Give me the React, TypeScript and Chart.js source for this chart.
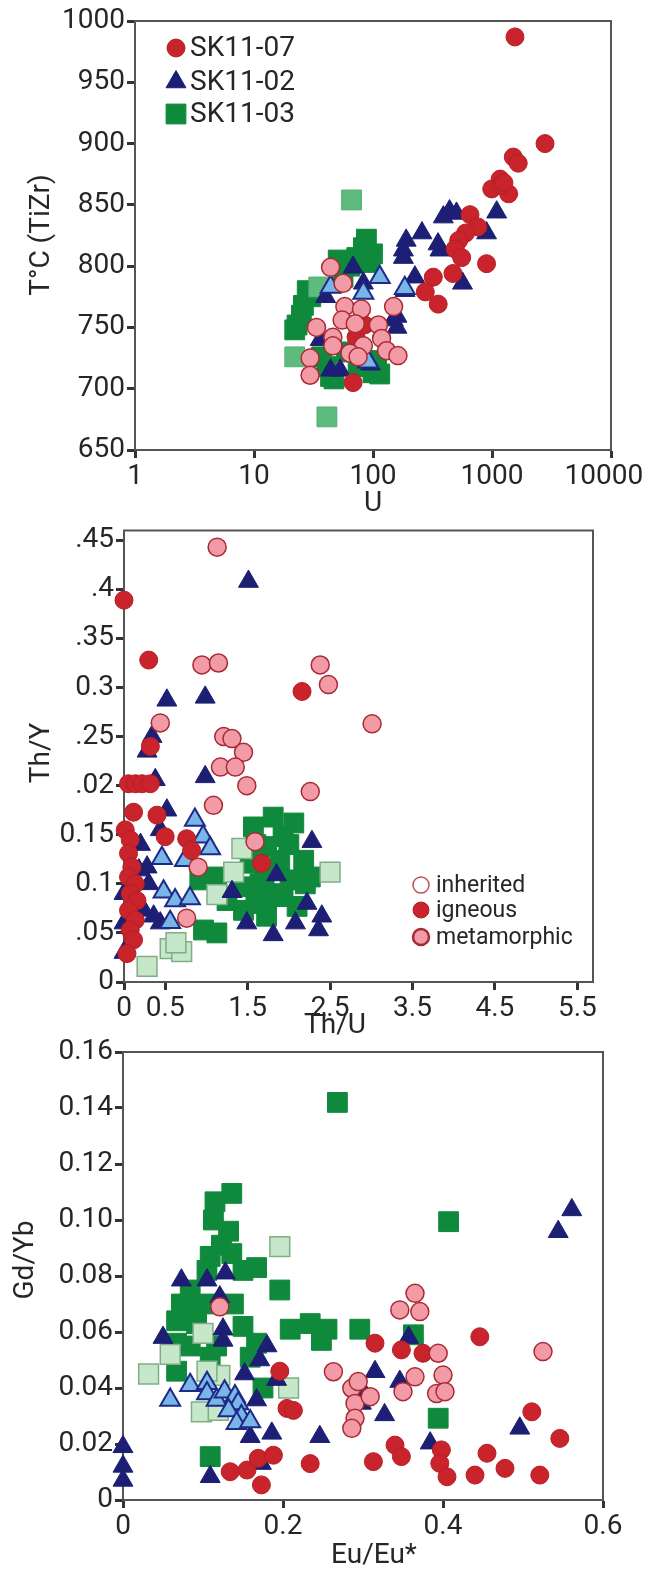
import React, { useEffect, useRef } from 'react';
import { Chart, registerables } from 'chart.js';

Chart.register(...registerables);

type P = [number, number];

// ---------------- Panel 1: T°C (TiZr) vs U (log) ----------------
const p1XTicks = [1, 10, 100, 1000, 10000];
const p1XTickLabels = ['1', '10', '100', '1000', '10000\u2002'];
const p1YTicks = [650, 700, 750, 800, 850, 900, 950, 1000];
const p1YTickLabels = ['650', '700', '750', '800', '850', '900', '950', '1000'];

const p1Red: P[] = [
  [1560, 987], [2790, 900], [1510, 889], [1660, 884], [1170, 871], [995, 863], [1380, 859],
  [1200, 866], [1260, 868], [653, 842], [760, 832], [600, 827], [525, 821], [490, 814],
  [556, 807], [900, 802], [470, 794], [321, 791], [275, 779], [353, 769], [68, 705],
  [72, 742], [85, 752],
];
const p1Navy: P[] = [
  [390, 840], [440, 845], [503, 843], [1095, 844], [258, 827], [190, 821], [180, 813],
  [180, 807], [365, 813], [352, 818], [225, 791], [565, 786], [900, 827], [186, 780],
  [159, 759], [159, 750], [148, 756], [68, 799], [83, 786], [40, 775], [36, 740], [53, 715],
  [44, 715], [95, 720],
];
const p1LightBlue: P[] = [[114, 791], [83, 778], [44, 783], [185, 782], [91, 722]];
const p1Green: P[] = [
  [88, 822], [83, 815], [73, 807], [64, 800], [94, 803], [99, 810], [56, 791], [51, 805],
  [28, 780], [30, 775], [26, 768], [25, 760], [23, 752], [22, 748], [37, 726], [41, 718],
  [44, 710], [47, 708], [100, 713], [114, 712], [107, 723], [60, 730], [75, 718],
];
const p1MidGreen: P[] = [[66, 854], [22, 726], [41, 677], [35, 783]];
const p1Pink: P[] = [
  [44, 799], [56, 786], [58, 767], [80, 765], [149, 767], [55, 756], [71, 753], [111, 752],
  [33.5, 750], [46, 742], [118, 741], [46, 735], [83, 735], [130, 731], [162, 727], [64, 729],
  [75, 726], [29.6, 725], [29.6, 711],
];

// ---------------- Panel 2: Th/Y vs Th/U ----------------
const p2XTicks = [0, 0.5, 1.5, 2.5, 3.5, 4.5, 5.5];
const p2XTickLabels = ['0', '0.5', '1.5', '2.5', '3.5', '4.5', '5.5'];
const p2YTicks = [0, 0.05, 0.1, 0.15, 0.2, 0.25, 0.3, 0.35, 0.4, 0.45];
const p2YTickLabels = ['0', '.05', '0.1', '0.15', '.02', '.25', '0.3', '.35', '.4', '.45'];

const p2Pink: P[] = [
  [1.13, 0.443], [0.945, 0.323], [1.146, 0.325], [2.38, 0.323], [2.48, 0.303], [3.01, 0.263],
  [0.44, 0.264], [1.21, 0.25], [1.31, 0.248], [1.45, 0.234], [1.17, 0.219], [1.35, 0.219],
  [1.49, 0.2], [2.26, 0.194], [1.085, 0.18], [1.59, 0.143], [0.9, 0.117], [0.76, 0.065],
];
const p2Red: P[] = [
  [0.0, 0.389], [0.3, 0.328], [2.16, 0.296], [0.32, 0.24], [0.055, 0.202], [0.14, 0.202],
  [0.22, 0.202], [0.32, 0.202], [0.116, 0.173], [0.4, 0.17], [0.5, 0.148], [0.76, 0.146],
  [0.82, 0.134], [1.67, 0.121], [0.015, 0.155], [0.075, 0.145], [0.055, 0.131], [0.095, 0.117],
  [0.055, 0.107], [0.137, 0.1], [0.075, 0.09], [0.157, 0.083], [0.055, 0.073], [0.137, 0.063],
  [0.075, 0.053], [0.116, 0.043], [0.036, 0.029],
];
const p2Navy: P[] = [
  [1.51, 0.408], [0.52, 0.287], [0.985, 0.29], [0.28, 0.235], [0.34, 0.25], [0.985, 0.209],
  [0.38, 0.206], [0.52, 0.175], [0.44, 0.155], [2.28, 0.143], [1.85, 0.109], [1.31, 0.092],
  [2.22, 0.08], [2.4, 0.067], [2.08, 0.06], [1.49, 0.06], [2.36, 0.053], [1.81, 0.048],
  [0.28, 0.117], [0.3, 0.1], [0.36, 0.067], [0.0, 0.09], [0.0, 0.06], [0.0, 0.03],
  [0.24, 0.073], [0.44, 0.06], [0.18, 0.114], [0.2, 0.14],
];
const p2LightBlue: P[] = [
  [0.86, 0.165], [0.96, 0.148], [1.045, 0.136], [0.46, 0.126], [0.74, 0.124], [0.48, 0.092],
  [0.62, 0.083], [0.8, 0.085], [0.56, 0.061],
];
const p2Green: P[] = [
  [1.81, 0.168], [2.06, 0.162], [1.57, 0.158], [1.93, 0.148], [1.73, 0.138], [2.18, 0.124],
  [1.89, 0.124], [1.53, 0.121], [2.26, 0.107], [2.015, 0.104], [1.65, 0.1], [1.45, 0.097],
  [1.127, 0.107], [0.92, 0.104], [1.25, 0.083], [1.69, 0.083], [1.93, 0.087], [1.45, 0.073],
  [1.73, 0.067], [0.965, 0.053], [1.127, 0.05], [2.1, 0.077], [1.6, 0.14], [2.0, 0.14],
  [1.7, 0.11], [1.85, 0.09], [2.2, 0.1], [1.6, 0.08],
];
const p2LightGreen: P[] = [
  [1.43, 0.136], [2.5, 0.112], [1.33, 0.112], [1.127, 0.089], [0.56, 0.034], [0.7, 0.031],
  [0.28, 0.016], [0.63, 0.04],
];

// ---------------- Panel 3: Gd/Yb vs Eu/Eu* ----------------
const p3XTicks = [0, 0.2, 0.4, 0.6];
const p3XTickLabels = ['0', '0.2', '0.4', '0.6'];
const p3YTicks = [0, 0.02, 0.04, 0.06, 0.08, 0.1, 0.12, 0.14, 0.16];
const p3YTickLabels = ['0', '0.02', '0.04', '0.06', '0.08', '0.10', '0.12', '0.14', '0.16'];

const p3Green: P[] = [
  [0.136, 0.1095], [0.115, 0.1065], [0.113, 0.1], [0.132, 0.096], [0.123, 0.091], [0.109, 0.087],
  [0.136, 0.088], [0.167, 0.083], [0.15, 0.082], [0.105, 0.082], [0.196, 0.075], [0.084, 0.075],
  [0.073, 0.07], [0.088, 0.068], [0.109, 0.07], [0.138, 0.07], [0.067, 0.064], [0.092, 0.063],
  [0.15, 0.062], [0.209, 0.061], [0.234, 0.063], [0.255, 0.061], [0.248, 0.057], [0.296, 0.061],
  [0.167, 0.056], [0.067, 0.056], [0.084, 0.055], [0.117, 0.055], [0.159, 0.051], [0.067, 0.046],
  [0.109, 0.051], [0.175, 0.04], [0.109, 0.0155], [0.268, 0.142], [0.407, 0.0994], [0.363, 0.059],
  [0.394, 0.0292],
];
const p3LightGreen: P[] = [
  [0.196, 0.0905], [0.1, 0.0595], [0.059, 0.052], [0.032, 0.045], [0.121, 0.0445], [0.207, 0.04],
  [0.098, 0.0315], [0.119, 0.032], [0.105, 0.046],
];
const p3Navy: P[] = [
  [0.073, 0.0785], [0.128, 0.081], [0.105, 0.0785], [0.121, 0.0725], [0.05, 0.058], [0.125, 0.061],
  [0.125, 0.057], [0.18, 0.055], [0.171, 0.05], [0.152, 0.045], [0.192, 0.043], [0.167, 0.0357],
  [0.159, 0.0226], [0.186, 0.0238], [0.246, 0.0226], [0, 0.019], [0, 0.012], [0, 0.007],
  [0.109, 0.0083], [0.173, 0.013], [0.561, 0.1036], [0.544, 0.0958], [0.357, 0.058],
  [0.315, 0.0458], [0.302, 0.038], [0.298, 0.0345], [0.346, 0.0423], [0.327, 0.0304],
  [0.384, 0.0203], [0.496, 0.0256],
];
const p3LightBlue: P[] = [
  [0.059, 0.0357], [0.084, 0.041], [0.105, 0.0417], [0.105, 0.038], [0.117, 0.0357], [0.127, 0.0387],
  [0.14, 0.037], [0.144, 0.0345], [0.132, 0.032], [0.148, 0.0298], [0.142, 0.0274], [0.159, 0.028],
];
const p3Pink: P[] = [
  [0.121, 0.069], [0.263, 0.0458], [0.365, 0.0738], [0.346, 0.0679], [0.371, 0.0673], [0.394, 0.0524],
  [0.525, 0.053], [0.365, 0.044], [0.4, 0.0446], [0.392, 0.038], [0.4025, 0.0387], [0.35, 0.0387],
  [0.286, 0.0399], [0.294, 0.0423], [0.29, 0.0345], [0.309, 0.0369], [0.29, 0.0292], [0.286, 0.0256],
];
const p3Red: P[] = [
  [0.196, 0.046], [0.205, 0.0327], [0.213, 0.032], [0.134, 0.0101], [0.155, 0.0107], [0.169, 0.0149],
  [0.188, 0.016], [0.173, 0.0054], [0.234, 0.013], [0.315, 0.056], [0.348, 0.0536], [0.375, 0.0524],
  [0.446, 0.0583], [0.511, 0.0315], [0.546, 0.022], [0.34, 0.0196], [0.348, 0.0155], [0.313, 0.0137],
  [0.398, 0.0179], [0.396, 0.0131], [0.405, 0.0083], [0.455, 0.0167], [0.44, 0.0089], [0.4775, 0.0113],
  [0.521, 0.0089],
];

// ---------------- styling ----------------
const FONT = 'Roboto, "Open Sans", sans-serif';
const TEXT = '#262626';
const TICK_SIZE = 28;
const TITLE_SIZE = 28;

type Sty = { style: 'circle' | 'triangle' | 'rect'; r: number; fill: string; stroke: string; bw: number };
const STY: Record<string, Sty> = {
  pink: { style: 'circle', r: 9, fill: '#f29ba6', stroke: '#a82a34', bw: 1.5 },
  red: { style: 'circle', r: 9, fill: '#c9232c', stroke: '#b51f27', bw: 1 },
  hollow: { style: 'circle', r: 8, fill: '#ffffff', stroke: '#c0505a', bw: 1.5 },
  lightBlue: { style: 'triangle', r: 11.5, fill: '#7ab5e8', stroke: '#1d2a86', bw: 2 },
  navy: { style: 'triangle', r: 11.5, fill: '#1c1f73', stroke: '#1c1f73', bw: 1 },
  lightGreen: { style: 'rect', r: 14, fill: '#c7e7ca', stroke: '#7fae86', bw: 1.5 },
  midGreen: { style: 'rect', r: 14, fill: '#5dbb7e', stroke: '#52ad72', bw: 1 },
  green: { style: 'rect', r: 14, fill: '#0f8a3c', stroke: '#0f8a3c', bw: 1 },
};

function ds(data: P[], s: Sty) {
  return {
    data: data.map(([x, y]) => ({ x, y })),
    pointStyle: s.style,
    pointRadius: s.r,
    pointHoverRadius: s.r,
    pointBackgroundColor: s.fill,
    backgroundColor: s.fill,
    pointBorderColor: s.stroke,
    borderColor: s.stroke,
    pointBorderWidth: s.bw,
    showLine: false,
    clip: false,
  };
}

function drawMarker(ctx: CanvasRenderingContext2D, s: Sty, x: number, y: number) {
  ctx.save();
  ctx.beginPath();
  if (s.style === 'circle') ctx.arc(x, y, s.r, 0, Math.PI * 2);
  else if (s.style === 'triangle') {
    ctx.moveTo(x, y - s.r);
    ctx.lineTo(x + s.r * 0.866, y + s.r / 2);
    ctx.lineTo(x - s.r * 0.866, y + s.r / 2);
    ctx.closePath();
  } else {
    const h = s.r * Math.SQRT1_2;
    ctx.rect(x - h, y - h, 2 * h, 2 * h);
  }
  ctx.fillStyle = s.fill;
  ctx.strokeStyle = s.stroke;
  ctx.lineWidth = s.bw;
  ctx.fill();
  ctx.stroke();
  ctx.restore();
}

type Area = { left: number; top: number; right: number; bottom: number };
type TitleSpec = { text: string; x: number; y: number; rotate?: boolean };
type LegendSpec = { items: { sty: Sty; text: string }[]; mx: number; tx: number; ys: number[]; size: number };
type Spec = {
  width: number;
  height: number;
  top: number;
  area: Area;
  xType: 'linear' | 'logarithmic';
  xMin: number; xMax: number; xTicks: number[]; xLabels: string[];
  yMin: number; yMax: number; yTicks: number[]; yLabels: string[];
  datasets: any[];
  titles: TitleSpec[];
  legend: LegendSpec;
};

function axis(kind: 'x' | 'y', spec: Spec) {
  const isX = kind === 'x';
  const ticks = isX ? spec.xTicks : spec.yTicks;
  const labels = isX ? spec.xLabels : spec.yLabels;
  return {
    type: isX ? spec.xType : 'linear',
    position: isX ? 'bottom' : 'left',
    min: isX ? spec.xMin : spec.yMin,
    max: isX ? spec.xMax : spec.yMax,
    afterBuildTicks: (s: any) => {
      s.ticks = ticks.map((v) => ({ value: v }));
    },
    afterFit: (s: any) => {
      if (isX) {
        s.height = spec.height - spec.area.bottom;
        s.paddingLeft = 0;
        s.paddingRight = 0;
      } else {
        s.width = spec.area.left;
        s.paddingTop = 0;
        s.paddingBottom = 0;
      }
    },
    ticks: {
      autoSkip: false,
      maxRotation: 0,
      minRotation: 0,
      padding: 2,
      color: TEXT,
      font: { family: FONT, size: TICK_SIZE },
      callback: (_v: any, i: number) => labels[i],
    },
    grid: {
      display: true,
      drawOnChartArea: false,
      drawTicks: true,
      tickLength: 8,
      tickWidth: 3,
      tickColor: '#333',
      color: '#333',
    },
    border: { display: true, color: '#555', width: 2 },
    title: { display: false },
  };
}

function buildConfig(spec: Spec): any {
  const decor = {
    id: 'decor',
    beforeDatasetsDraw(chart: any) {
      const { ctx, chartArea: a } = chart;
      ctx.save();
      ctx.strokeStyle = '#555';
      ctx.lineWidth = 2;
      ctx.strokeRect(a.left, a.top, a.right - a.left, a.bottom - a.top);
      ctx.restore();
    },
    afterDraw(chart: any) {
      const ctx: CanvasRenderingContext2D = chart.ctx;
      ctx.save();
      ctx.fillStyle = TEXT;
      ctx.textAlign = 'center';
      ctx.textBaseline = 'middle';
      ctx.font = `${TITLE_SIZE}px ${FONT}`;
      for (const t of spec.titles) {
        ctx.save();
        ctx.translate(t.x, t.y);
        if (t.rotate) ctx.rotate(-Math.PI / 2);
        ctx.fillText(t.text, 0, 0);
        ctx.restore();
      }
      const L = spec.legend;
      ctx.textAlign = 'left';
      ctx.font = `${L.size}px ${FONT}`;
      L.items.forEach((it, i) => {
        drawMarker(ctx, it.sty, L.mx, L.ys[i]);
        ctx.fillStyle = TEXT;
        ctx.fillText(it.text, L.tx, L.ys[i] + 1);
      });
      ctx.restore();
    },
  };
  return {
    type: 'scatter',
    data: { datasets: spec.datasets },
    options: {
      responsive: false,
      animation: false,
      devicePixelRatio: 1,
      events: [],
      layout: {
        padding: { left: 0, top: spec.area.top, right: spec.width - spec.area.right, bottom: 0 },
      },
      plugins: { legend: { display: false }, tooltip: { enabled: false } },
      scales: { x: axis('x', spec), y: axis('y', spec) },
    },
    plugins: [decor],
  };
}

const W = 647;

const panel1: Spec = {
  width: W, height: 525, top: 0,
  area: { left: 135, top: 21, right: 611, bottom: 450 },
  xType: 'logarithmic', xMin: 1, xMax: 10000, xTicks: p1XTicks, xLabels: p1XTickLabels,
  yMin: 650, yMax: 1000, yTicks: p1YTicks, yLabels: p1YTickLabels,
  datasets: [
    ds(p1Pink, STY.pink), ds(p1Red, STY.red), ds(p1LightBlue, STY.lightBlue), ds(p1Navy, STY.navy),
    ds(p1MidGreen, STY.midGreen), ds(p1Green, STY.green),
  ],
  titles: [
    { text: 'T°C (TiZr)', x: 42, y: 235, rotate: true },
    { text: 'U', x: 373, y: 504 },
  ],
  legend: {
    items: [
      { sty: STY.red, text: 'SK11-07' },
      { sty: STY.navy, text: 'SK11-02' },
      { sty: STY.green, text: 'SK11-03' },
    ],
    mx: 176, tx: 190, ys: [48, 82, 114], size: 28,
  },
};

const panel2: Spec = {
  width: W, height: 530, top: 515,
  area: { left: 124, top: 15, right: 593, bottom: 467 },
  xType: 'linear', xMin: 0, xMax: 5.69, xTicks: p2XTicks, xLabels: p2XTickLabels,
  yMin: 0, yMax: 0.46, yTicks: p2YTicks, yLabels: p2YTickLabels,
  datasets: [
    ds(p2Pink, STY.pink), ds(p2Red, STY.red), ds(p2LightBlue, STY.lightBlue), ds(p2Navy, STY.navy),
    ds(p2LightGreen, STY.lightGreen), ds(p2Green, STY.green),
  ],
  titles: [
    { text: 'Th/Y', x: 42, y: 238, rotate: true },
    { text: 'Th/U', x: 335, y: 511 },
  ],
  legend: {
    items: [
      { sty: STY.hollow, text: 'inherited' },
      { sty: { ...STY.red, r: 8 }, text: 'igneous' },
      { sty: { ...STY.pink, r: 8, bw: 2.5 }, text: 'metamorphic' },
    ],
    mx: 421, tx: 436, ys: [370, 395, 422], size: 23,
  },
};

const panel3: Spec = {
  width: W, height: 545, top: 1025,
  area: { left: 123, top: 27, right: 603, bottom: 475 },
  xType: 'linear', xMin: 0, xMax: 0.6, xTicks: p3XTicks, xLabels: p3XTickLabels,
  yMin: 0, yMax: 0.16, yTicks: p3YTicks, yLabels: p3YTickLabels,
  datasets: [
    ds(p3Pink, STY.pink), ds(p3Red, STY.red), ds(p3LightBlue, STY.lightBlue), ds(p3Navy, STY.navy),
    ds(p3LightGreen, STY.lightGreen), ds(p3Green, STY.green),
  ],
  titles: [
    { text: 'Gd/Yb', x: 26, y: 235, rotate: true },
    { text: 'Eu/Eu*', x: 374, y: 531 },
  ],
  legend: { items: [], mx: 0, tx: 0, ys: [], size: 20 },
};

function Panel({ spec }: { spec: Spec }) {
  const ref = useRef<HTMLCanvasElement>(null);
  useEffect(() => {
    const chart = new Chart(ref.current as HTMLCanvasElement, buildConfig(spec));
    return () => chart.destroy();
  }, [spec]);
  return (
    <canvas
      ref={ref}
      width={spec.width}
      height={spec.height}
      style={{ position: 'absolute', left: 0, top: spec.top, width: spec.width, height: spec.height }}
    />
  );
}

export default function App() {
  return (
    <div style={{ position: 'absolute', left: 0, top: 0, width: W, height: 1570, background: '#fff' }}>
      <Panel spec={panel3} />
      <Panel spec={panel2} />
      <Panel spec={panel1} />
    </div>
  );
}
